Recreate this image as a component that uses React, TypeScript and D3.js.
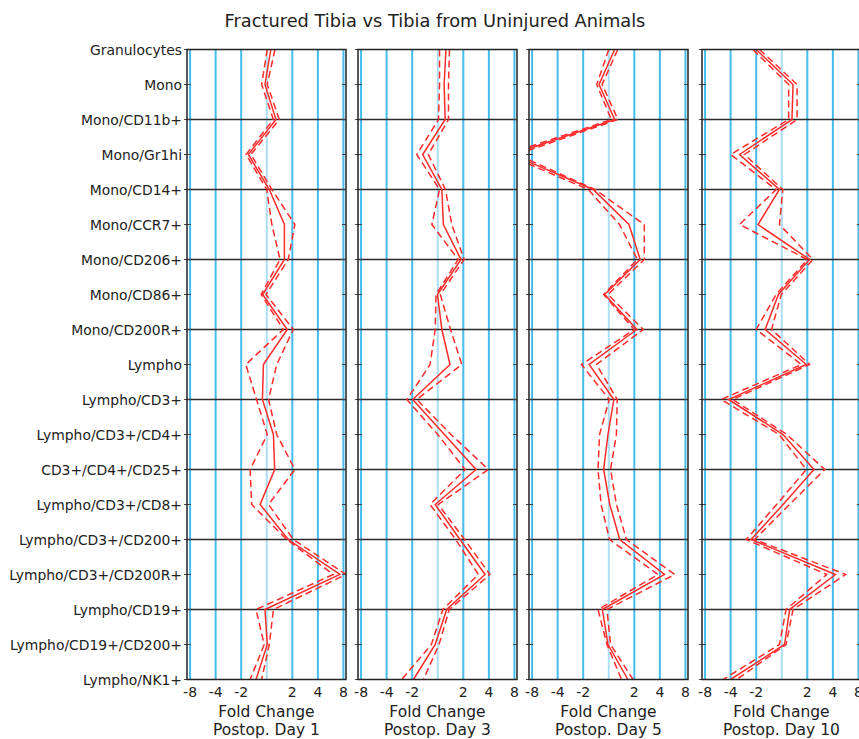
import * as d3 from "d3";

const categories = [
  "Granulocytes",
  "Mono",
  "Mono/CD11b+",
  "Mono/Gr1hi",
  "Mono/CD14+",
  "Mono/CCR7+",
  "Mono/CD206+",
  "Mono/CD86+",
  "Mono/CD200R+",
  "Lympho",
  "Lympho/CD3+",
  "Lympho/CD3+/CD4+",
  "CD3+/CD4+/CD25+",
  "Lympho/CD3+/CD8+",
  "Lympho/CD3+/CD200+",
  "Lympho/CD3+/CD200R+",
  "Lympho/CD19+",
  "Lympho/CD19+/CD200+",
  "Lympho/NK1+",
];

// values are signed log2 fold change
const day1Mean = [0.16, -0.07, 0.36, -0.72, 0.1, 0.69, 0.69, -0.16, 0.8, -0.13, -0.17, 0.26, 0.31, -0.26, 0.84, 2.86, -0.07, 0.02, -0.42];
const day1Lo = [0.02, -0.2, 0.26, -0.81, 0.0, 0.2, 0.52, -0.22, 0.65, -0.82, -0.4, 0.02, -0.65, -0.59, 0.78, 2.6, -0.42, -0.1, -0.65];
const day1Hi = [0.32, 0.02, 0.49, -0.62, 0.2, 1.1, 0.84, -0.03, 1.04, 0.39, 0.07, 0.39, 1.1, 0.07, 1.04, 3.1, 0.26, 0.1, -0.2];

const day3Mean = [0.32, 0.25, 0.29, -0.59, 0.16, 0.22, 0.91, -0.01, 0.16, 0.48, -0.98, 0.26, 1.5, -0.1, 0.87, 1.85, 0.35, -0.1, -0.95];
const day3Lo = [0.07, 0.07, 0.03, -0.82, 0.07, -0.23, 0.8, -0.07, -0.1, -0.3, -1.21, 0.0, 1.07, -0.3, 0.7, 1.59, 0.2, -0.25, -1.41];
const day3Hi = [0.46, 0.42, 0.42, -0.37, 0.3, 0.55, 1.03, 0.1, 0.5, 0.94, -0.82, 0.52, 1.98, 0.02, 1.05, 2.04, 0.45, 0.05, -0.56];

const day5Mean = [0.23, -0.38, 0.23, -3.8, -0.61, 0.79, 1.23, -0.16, 1.1, -0.77, 0.2, -0.03, -0.2, 0.04, 0.43, 2.18, -0.25, -0.03, 0.75];
const day5Lo = [0.0, -0.47, 0.1, -4.0, -0.8, 0.42, 1.12, -0.2, 1.0, -1.07, 0.02, -0.36, -0.42, -0.3, 0.03, 1.93, -0.42, -0.07, 0.5];
const day5Hi = [0.35, -0.26, 0.36, -3.6, -0.54, 1.39, 1.39, -0.03, 1.35, -0.48, 0.33, 0.3, 0.07, 0.3, 0.69, 2.58, -0.07, 0.07, 0.95];

const day10Mean = [-1.0, 0.44, 0.4, -1.65, -0.09, -0.93, 1.09, -0.13, -0.65, 0.96, -2.08, 0.05, 1.26, 0.05, -1.2, 2.1, 0.31, 0.11, -2.0];
const day10Lo = [-1.13, 0.27, 0.27, -2.0, -0.22, -1.65, 1.0, -0.22, -1.0, 0.77, -2.37, -0.1, 0.96, -0.2, -1.39, 1.76, 0.17, -0.09, -2.29];
const day10Hi = [-0.87, 0.6, 0.6, -1.46, 0.04, -0.09, 1.22, -0.02, -0.4, 1.09, -1.92, 0.2, 1.68, 0.3, -1.06, 2.5, 0.44, 0.17, -1.76];

const tickValues = [-3, -2, -1, 1, 2, 3];
const tickLabels = ["-8", "-4", "-2", "2", "4", "8"];

const panels = [
  { title: "Postop. Day 1", mean: day1Mean, lo: day1Lo, hi: day1Hi },
  { title: "Postop. Day 3", mean: day3Mean, lo: day3Lo, hi: day3Hi },
  { title: "Postop. Day 5", mean: day5Mean, lo: day5Lo, hi: day5Hi },
  { title: "Postop. Day 10", mean: day10Mean, lo: day10Lo, hi: day10Hi },
];

const W = 859;
const H = 739;
const panelLeft = [187, 358, 529, 702];
const panelW = 159;
const font = "DejaVu Sans, sans-serif";
const red = "#ff2b2b";
const blue = "#45bcec";
const lightBlue = "#acdff4";

export default function App() {
  const y = d3.scalePoint<string>().domain(categories).range([49.5, 679.5]);
  const top = y(categories[0])!;
  const bottom = y(categories[categories.length - 1])!;

  return (
    <svg
      width={W}
      height={H}
      style={{ position: "absolute", left: 0, top: 0, background: "#fff" }}
    >
      <text x={435} y={27} textAnchor="middle" fontFamily={font} fontSize={17.8} fill="#222">
        Fractured Tibia vs Tibia from Uninjured Animals
      </text>

      {categories.map((c) => (
        <text
          key={c}
          x={182}
          y={y(c)}
          textAnchor="end"
          dominantBaseline="central"
          fontFamily={font}
          fontSize={13.9}
          fill="#222"
        >
          {c}
        </text>
      ))}

      {panels.map((p, pi) => {
        const x0 = panelLeft[pi];
        const x = d3.scaleLinear().domain([-3.12, 3.1]).range([x0, x0 + panelW]);
        const line = d3
          .line<number>()
          .x((d) => x(d))
          .y((_, i) => y(categories[i])!);
        const clipId = `clip-${pi}`;
        return (
          <g key={p.title}>
            <defs>
              <clipPath id={clipId}>
                <rect x={x0} y={top} width={panelW} height={bottom - top} />
              </clipPath>
            </defs>
            <rect x={x0} y={top} width={panelW} height={bottom - top} fill="#fff" />
            {/* vertical grid */}
            <line x1={x(0)} x2={x(0)} y1={top} y2={bottom} stroke={lightBlue} strokeWidth={2} />
            {tickValues.map((t) => (
              <line key={t} x1={x(t)} x2={x(t)} y1={top} y2={bottom} stroke={blue} strokeWidth={2} />
            ))}
            {/* horizontal separators */}
            {categories.map((c, i) =>
              i > 0 && i < categories.length - 1 && i % 2 === 0 ? (
                <line
                  key={c}
                  x1={x0}
                  x2={x0 + panelW}
                  y1={y(c)}
                  y2={y(c)}
                  stroke="#2a2a2a"
                  strokeWidth={1.7}
                />
              ) : null
            )}
            {/* side ticks */}
            {categories.map((c) => (
              <g key={c} stroke="#444" strokeWidth={1}>
                <line x1={x0 - 3} x2={x0 + 4} y1={y(c)} y2={y(c)} />
                <line x1={x0 + panelW - 4} x2={x0 + panelW} y1={y(c)} y2={y(c)} />
              </g>
            ))}
            <g clipPath={`url(#${clipId})`} fill="none" stroke={red}>
              <path d={line(p.lo) ?? ""} strokeWidth={1.5} strokeDasharray="7,4" />
              <path d={line(p.hi) ?? ""} strokeWidth={1.5} strokeDasharray="7,4" />
              <path d={line(p.mean) ?? ""} strokeWidth={1.5} />
            </g>
            <rect
              x={x0}
              y={top}
              width={panelW}
              height={bottom - top}
              fill="none"
              stroke="#222"
              strokeWidth={1.5}
            />
            {tickValues.map((t, i) => (
              <text
                key={t}
                x={x(t)}
                y={697}
                textAnchor="middle"
                fontFamily={font}
                fontSize={14}
                fill="#222"
              >
                {tickLabels[i]}
              </text>
            ))}
            <text x={x0 + panelW / 2} y={716.5} textAnchor="middle" fontFamily={font} fontSize={15.5} fill="#222">
              Fold Change
            </text>
            <text x={x0 + panelW / 2} y={735} textAnchor="middle" fontFamily={font} fontSize={15.5} fill="#222">
              {p.title}
            </text>
          </g>
        );
      })}
    </svg>
  );
}
